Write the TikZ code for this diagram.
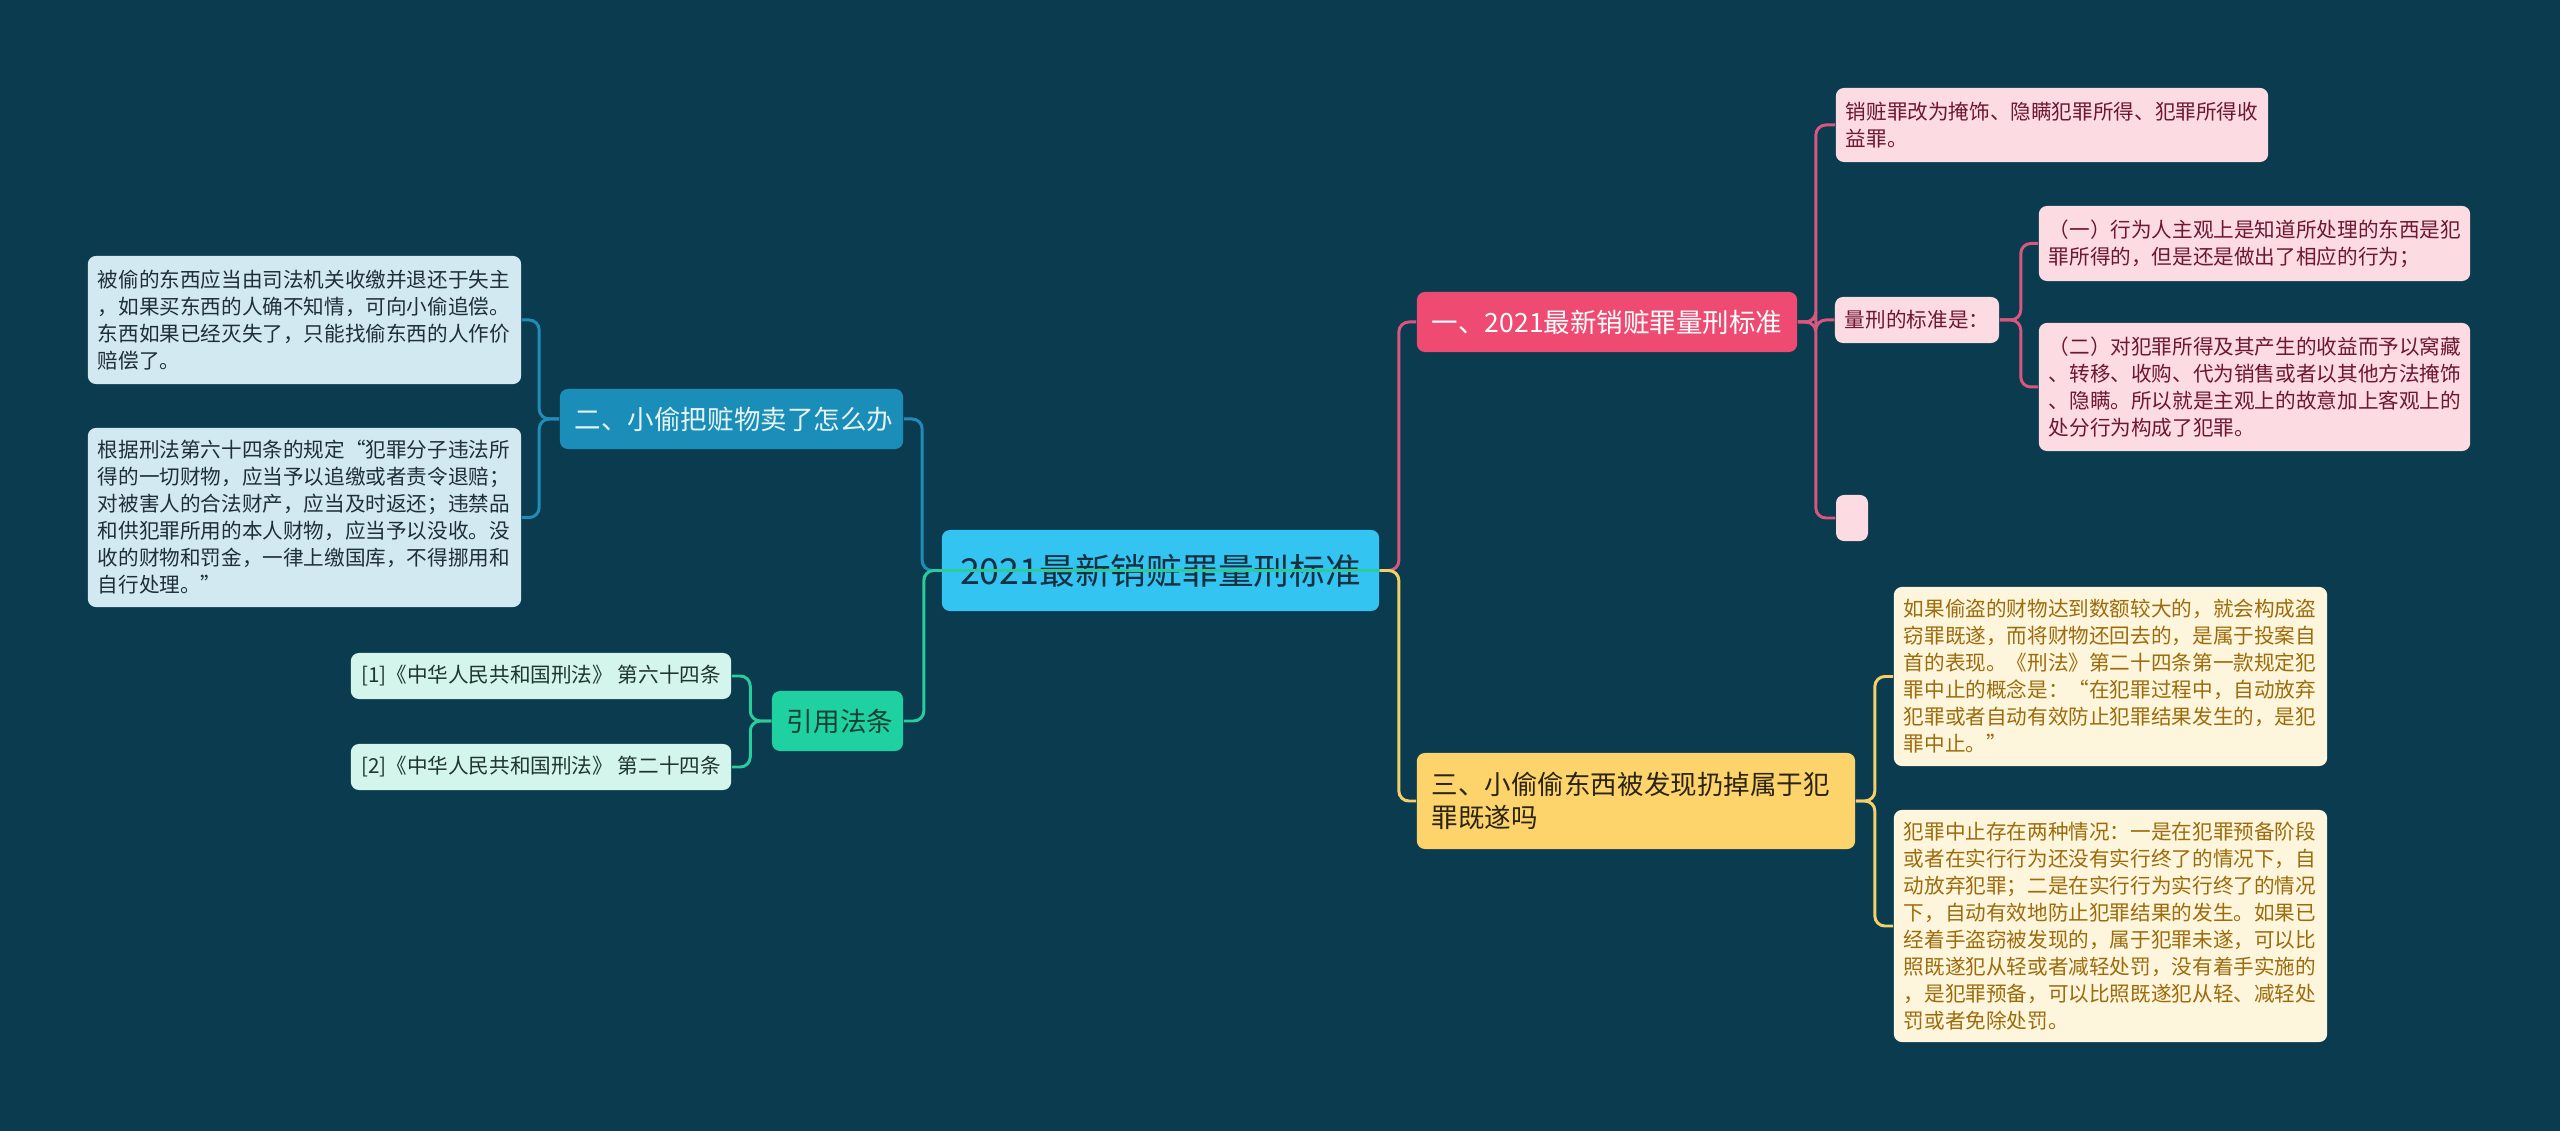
\documentclass[tikz,border=0pt]{standalone}
\usepackage{fontspec}
\setmainfont{Noto Sans CJK SC}
\definecolor{bg}{HTML}{0A3B4F}
\definecolor{rootfill}{HTML}{33C4F2}
\definecolor{roottext}{HTML}{163040}
\definecolor{pinkfill}{HTML}{EE4A72}
\definecolor{pinkline}{HTML}{D9577E}
\definecolor{pinkleaf}{HTML}{FCDCE2}
\definecolor{pinktext}{HTML}{6E1633}
\definecolor{bluefill}{HTML}{1A8DB8}
\definecolor{bluetext}{HTML}{E6F4F8}
\definecolor{blueline}{HTML}{1F8DB8}
\definecolor{blueleaf}{HTML}{D3E9F1}
\definecolor{blueleaftext}{HTML}{1F2F3A}
\definecolor{greenfill}{HTML}{1FD0A0}
\definecolor{greentext}{HTML}{154035}
\definecolor{greenline}{HTML}{2ACB9C}
\definecolor{greenleaf}{HTML}{D3F5EB}
\definecolor{greenleaftext}{HTML}{1F3530}
\definecolor{yellowfill}{HTML}{FDD36C}
\definecolor{yellowline}{HTML}{F5CF6A}
\definecolor{yellowtext}{HTML}{2B2410}
\definecolor{yellowleaf}{HTML}{FDF5DC}
\definecolor{yellowleaftext}{HTML}{9C6C0C}
\tikzset{
  box/.style={rounded corners=0.08cm, inner ysep=0pt, align=left},
  leaf/.style={box, inner xsep=0.1cm, font=\fontsize{5.86pt}{7.68pt}\selectfont},
  branch/.style={box, inner xsep=0.15cm, font=\fontsize{7.54pt}{9.39pt}\selectfont},
  conn/.style={line width=0.85pt, rounded corners=0.1cm},
}
\begin{document}
\begin{tikzpicture}[x=0.01cm,y=-0.01cm]
\fill[bg] (0,0) rectangle (2560,1131);
\useasboundingbox (0,0) rectangle (2560,1131);

% root
\node[box, fill=rootfill, text=roottext, align=center, minimum width=4.37cm, minimum height=0.81cm, inner xsep=0pt, font=\fontsize{10.16pt}{12pt}\selectfont] (root) at (1160.5,570.5) {2021最新销赃罪量刑标准};

% main branches
\node[branch, fill=pinkfill, text=white, text width=3.50cm, minimum height=0.60cm] (pinkB) at (1607,322) {一、2021最新销赃罪量刑标准};
\node[branch, fill=bluefill, text=bluetext, text width=3.13cm, minimum height=0.60cm] (blueB) at (731.5,419) {二、小偷把赃物卖了怎么办};
\node[branch, fill=greenfill, text=greentext, align=center, text width=1.01cm, minimum height=0.60cm] (greenB) at (837.5,721) {引用法条};
\node[branch, fill=yellowfill, text=yellowtext, text width=4.08cm, minimum height=0.96cm] (yellowB) at (1636,801) {三、小偷偷东西被发现扔掉属于犯\\罪既遂吗};

% left leaves
\node[leaf, fill=blueleaf, text=blueleaftext, text width=4.13cm, minimum height=1.28cm] (L1) at (304.5,320) {被偷的东西应当由司法机关收缴并退还于失主\\，如果买东西的人确不知情，可向小偷追偿。\\东西如果已经灭失了，只能找偷东西的人作价\\赔偿了。};
\node[leaf, fill=blueleaf, text=blueleaftext, text width=4.13cm, minimum height=1.79cm] (L2) at (304.5,517.5) {根据刑法第六十四条的规定“犯罪分子违法所\\得的一切财物，应当予以追缴或者责令退赔；\\对被害人的合法财产，应当及时返还；违禁品\\和供犯罪所用的本人财物，应当予以没收。没\\收的财物和罚金，一律上缴国库，不得挪用和\\自行处理。”};

\node[leaf, fill=greenleaf, text=greenleaftext, minimum width=3.80cm, minimum height=0.46cm] (G1) at (541,676) {[1]《中华人民共和国刑法》 第六十四条};
\node[leaf, fill=greenleaf, text=greenleaftext, minimum width=3.80cm, minimum height=0.46cm] (G2) at (541,767) {[2]《中华人民共和国刑法》 第二十四条};

% pink leaves
\node[leaf, fill=pinkleaf, text=pinktext, text width=4.12cm, minimum height=0.74cm] (Pa) at (2052,125) {销赃罪改为掩饰、隐瞒犯罪所得、犯罪所得收\\益罪。};
\node[leaf, fill=pinkleaf, text=pinktext, text width=1.44cm, minimum height=0.46cm] (Pb) at (1917,320) {量刑的标准是：};
\node[leaf, fill=pinkleaf, text=pinktext, text width=4.11cm, minimum height=0.75cm] (Pb1) at (2254.5,243.5) {（一）行为人主观上是知道所处理的东西是犯\\罪所得的，但是还是做出了相应的行为；};
\node[leaf, fill=pinkleaf, text=pinktext, text width=4.11cm, minimum height=1.28cm] (Pb2) at (2254.5,387) {（二）对犯罪所得及其产生的收益而予以窝藏\\、转移、收购、代为销售或者以其他方法掩饰\\、隐瞒。所以就是主观上的故意加上客观上的\\处分行为构成了犯罪。};
\node[box, fill=pinkleaf, minimum width=0.32cm, minimum height=0.46cm, inner sep=0pt] (Pc) at (1852,518) {};

% yellow leaves
\node[leaf, fill=yellowleaf, text=yellowleaftext, text width=4.13cm, minimum height=1.79cm] (Y1) at (2110.5,676.5) {如果偷盗的财物达到数额较大的，就会构成盗\\窃罪既遂，而将财物还回去的，是属于投案自\\首的表现。《刑法》第二十四条第一款规定犯\\罪中止的概念是：“在犯罪过程中，自动放弃\\犯罪或者自动有效防止犯罪结果发生的，是犯\\罪中止。”};
\node[leaf, fill=yellowleaf, text=yellowleaftext, text width=4.13cm, minimum height=2.32cm] (Y2) at (2110.5,926) {犯罪中止存在两种情况：一是在犯罪预备阶段\\或者在实行行为还没有实行终了的情况下，自\\动放弃犯罪；二是在实行行为实行终了的情况\\下，自动有效地防止犯罪结果的发生。如果已\\经着手盗窃被发现的，属于犯罪未遂，可以比\\照既遂犯从轻或者减轻处罚，没有着手实施的\\，是犯罪预备，可以比照既遂犯从轻、减轻处\\罚或者免除处罚。};

% connectors: root to branches
\draw[conn, pinkline] (root.east) -- ++(19,0) |- (pinkB.west);
\draw[conn, yellowline] (root.east) -- ++(19,0) |- (yellowB.west);
\draw[conn, blueline] (root.west) -- ++(-19,0) |- (blueB.east);
\draw[conn, greenline] (root.east) -- ++(-456,0) |- (greenB.east);

% pink sub
\draw[conn, pinkline] (pinkB.east) -- ++(18,0) |- (Pa.west);
\draw[conn, pinkline] (pinkB.east) -- ++(18,0) |- (Pb.west);
\draw[conn, pinkline] (pinkB.east) -- ++(18,0) |- (Pc.west);
\draw[conn, pinkline] (Pb.east) -- ++(21,0) |- (Pb1.west);
\draw[conn, pinkline] (Pb.east) -- ++(21,0) |- (Pb2.west);

% yellow sub
\draw[conn, yellowline] (yellowB.east) -- ++(19,0) |- (Y1.west);
\draw[conn, yellowline] (yellowB.east) -- ++(19,0) |- (Y2.west);

% blue sub
\draw[conn, blueline] (blueB.west) -- ++(-20,0) |- (L1.east);
\draw[conn, blueline] (blueB.west) -- ++(-20,0) |- (L2.east);

% green sub
\draw[conn, greenline] (greenB.west) -- ++(-21,0) |- (G1.east);
\draw[conn, greenline] (greenB.west) -- ++(-21,0) |- (G2.east);
\end{tikzpicture}
\end{document}
